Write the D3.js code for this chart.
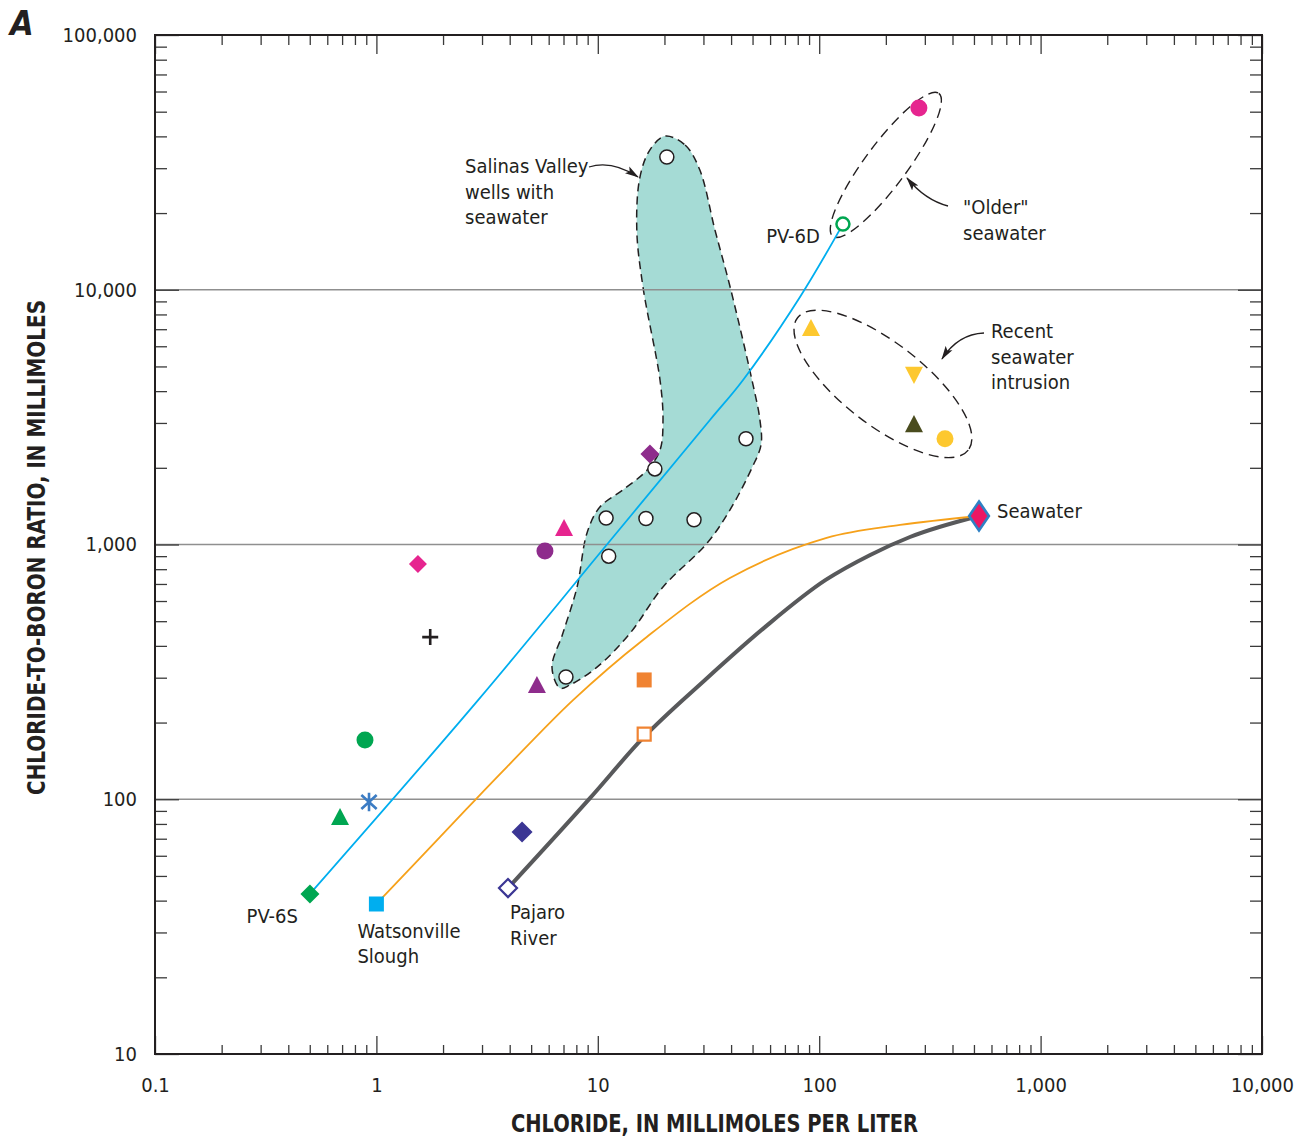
<!DOCTYPE html>
<html>
<head>
<meta charset="utf-8">
<script src="https://cdn.jsdelivr.net/npm/d3@7"></script>
<style>
  body { margin: 0; background: #fff; }
  text { font-family: "Liberation Sans Narrow", "DejaVu Sans Condensed", "Roboto", sans-serif; fill: #231f20; }
</style>
</head>
<body>
<svg id="chart" width="1304" height="1137"></svg>
<script>
// ---- data (chloride mmol/L, chloride-to-boron molar ratio) ----
const xMajorTicks = [0.1, 1, 10, 100, 1000, 10000]
const xTickLabels = ['0.1', '1', '10', '100', '1,000', '10,000']
const yMajorTicks = [10, 100, 1000, 10000, 100000]
const yTickLabels = ['10', '100', '1,000', '10,000', '100,000']
const gridRatios = [100, 1000, 10000]

// Salinas Valley wells with seawater (open circles)
const salinasWells = [
  [20.5, 33200], [46.7, 2600], [18.1, 1980], [10.9, 1270],
  [16.5, 1265], [27.2, 1250], [11.2, 900], [7.18, 302]
]
// outline of the shaded Salinas Valley field
const salinasEnvelope = [
  [20.1, 40100], [24.8, 37000], [28.9, 29500], [33.8, 17200], [39.6, 10250],
  [49.7, 4420], [54.0, 3080], [54.6, 2460], [49.7, 2000], [39.6, 1370],
  [31.1, 1010], [19.7, 681], [14.0, 449], [9.92, 330], [7.49, 281],
  [6.75, 273], [6.21, 330], [6.96, 449], [8.06, 681], [8.94, 1110],
  [10.2, 1400], [13.0, 1640], [16.7, 1960], [19.1, 2350], [19.7, 3080],
  [19.1, 4420], [16.0, 10250], [15.0, 17200], [15.5, 27700], [17.2, 35400]
]

// other samples: [chloride, ratio, symbol key]
const samples = [
  [282, 51700, 'pinkCircle'],
  [91.8, 7080, 'yellowTriangle'],
  [268, 4630, 'yellowTriangleDown'],
  [268, 2970, 'oliveTriangle'],
  [370, 2600, 'yellowCircle'],
  [17.2, 2265, 'purpleDiamond'],
  [7.04, 1161, 'pinkTriangle'],
  [5.77, 943, 'purpleCircle'],
  [1.54, 838, 'pinkDiamond'],
  [1.75, 433, 'blackPlus'],
  [5.31, 281, 'purpleTriangle'],
  [16.2, 294, 'orangeSquare'],
  [16.2, 180, 'orangeOpenSquare'],
  [0.888, 171, 'greenCircle'],
  [0.926, 97.5, 'blueAsterisk'],
  [0.685, 85.2, 'greenTriangle'],
  [4.55, 74.3, 'navyDiamond']
]

// end members
const endMembers = [
  ['PV-6S', 0.501, 42.5, 'greenDiamond'],
  ['PV-6D', 128, 18100, 'greenOpenCircle'],
  ['Watsonville', 1.0, 38.8, 'cyanSquare'],
  ['Pajaro', 3.93, 44.8, 'navyOpenDiamond'],
  ['Seawater', 527, 1294, 'seawaterDiamond']
]

// mixing curves
const mixPV6 = [[0.501, 42.5], [2.88, 245], [11.0, 1000], [32.1, 3080], [45.3, 4425], [81.9, 9370], [128, 18100]]
const mixWatsonville = [[1.0, 38.8], [1.94, 71.1], [2.79, 99.3], [3.89, 134], [7.73, 245], [16.0, 422], [39.5, 739], [108, 1061], [232, 1193], [527, 1294]]
const mixPajaro = [[3.93, 44.8], [9.22, 101], [16.0, 174], [30.5, 294], [56.9, 474], [107, 726], [170, 910], [257, 1070], [527, 1294]]

// centres of the dashed seawater envelopes
const olderCenter = [200, 30900]
const recentCenter = [194, 4270]

// ---- styles ----
const markStyle = {
  pinkCircle: { shape: 'circle', size: 17, fill: '#e6258f' },
  yellowTriangle: { shape: 'triangle', size: 18, fill: '#fdc82f' },
  yellowTriangleDown: { shape: 'triangleDown', size: 18, fill: '#fdc82f' },
  oliveTriangle: { shape: 'triangle', size: 18, fill: '#4a4c1e' },
  yellowCircle: { shape: 'circle', size: 17, fill: '#fdc82f' },
  purpleDiamond: { shape: 'diamond', size: 19, fill: '#8e2c8c' },
  pinkTriangle: { shape: 'triangle', size: 18, fill: '#e6258f' },
  purpleCircle: { shape: 'circle', size: 17, fill: '#8e2c8c' },
  pinkDiamond: { shape: 'diamond', size: 18, fill: '#e6258f' },
  blackPlus: { shape: 'plus', size: 16, stroke: '#231f20', width: 2.6 },
  purpleTriangle: { shape: 'triangle', size: 18, fill: '#8e2c8c' },
  orangeSquare: { shape: 'square', size: 15, fill: '#f08332' },
  orangeOpenSquare: { shape: 'square', size: 13, fill: '#fff', stroke: '#f08332', width: 2.2 },
  greenCircle: { shape: 'circle', size: 17, fill: '#00a651' },
  blueAsterisk: { shape: 'asterisk', size: 18, stroke: '#3b7cc4', width: 2.6 },
  greenTriangle: { shape: 'triangle', size: 18, fill: '#00a651' },
  navyDiamond: { shape: 'diamond', size: 21, fill: '#3b3694' },
  greenDiamond: { shape: 'diamond', size: 19, fill: '#00a651' },
  greenOpenCircle: { shape: 'circle', size: 13, fill: '#fff', stroke: '#00a651', width: 2.5 },
  cyanSquare: { shape: 'square', size: 15, fill: '#00aeef' },
  navyOpenDiamond: { shape: 'diamond', size: 18, fill: '#fff', stroke: '#3b3694', width: 2.2 },
  seawaterDiamond: { shape: 'rhombus', size: 29, fill: '#ec1763', stroke: '#2e80c4', width: 2.6 }
}

function symbolPath (shape, s) {
  const p = d3.path()
  const h = s / 2
  if (shape === 'circle') {
    p.arc(0, 0, h, 0, 2 * Math.PI)
  } else if (shape === 'square') {
    p.rect(-h, -h, s, s)
  } else if (shape === 'diamond') {
    p.moveTo(0, -h); p.lineTo(h, 0); p.lineTo(0, h); p.lineTo(-h, 0); p.closePath()
  } else if (shape === 'rhombus') {
    const w = h * 0.68
    p.moveTo(0, -h); p.lineTo(w, 0); p.lineTo(0, h); p.lineTo(-w, 0); p.closePath()
  } else if (shape === 'triangle') {
    p.moveTo(0, -h); p.lineTo(h, h * 0.9); p.lineTo(-h, h * 0.9); p.closePath()
  } else if (shape === 'triangleDown') {
    p.moveTo(0, h); p.lineTo(h, -h * 0.9); p.lineTo(-h, -h * 0.9); p.closePath()
  } else if (shape === 'plus') {
    p.moveTo(-h, 0); p.lineTo(h, 0); p.moveTo(0, -h); p.lineTo(0, h)
  } else if (shape === 'asterisk') {
    const dx = h * 0.85, dy = h * 0.78
    p.moveTo(0, -h * 1.02); p.lineTo(0, h * 1.02)
    p.moveTo(-dx, -dy); p.lineTo(dx, dy)
    p.moveTo(dx, -dy); p.lineTo(-dx, dy)
  }
  return p.toString()
}

// ---- chart ----
const mLeft = 155, mRight = 1262, mTop = 35, mBottom = 1054
const x = d3.scaleLog().domain([0.1, 10000]).range([mLeft, mRight])
const y = d3.scaleLog().domain([10, 100000]).range([mBottom, mTop])
const isMajor = v => Math.abs(Math.log10(v) - Math.round(Math.log10(v))) < 1e-9
const xMinorTicks = x.ticks().filter(v => !isMajor(v))
const yMinorTicks = y.ticks().filter(v => !isMajor(v))

const svg = d3.select('#chart')

const defs = svg.append('defs')
defs.append('marker')
    .attr('id', 'arrow')
    .attr('markerUnits', 'userSpaceOnUse')
    .attr('markerWidth', 14)
    .attr('markerHeight', 10)
    .attr('viewBox', '0 -5 14 10')
    .attr('refX', 13)
    .attr('refY', 0)
    .attr('orient', 'auto')
  .append('path')
    .attr('d', 'M0,-4L14,0L0,4L3,0Z')
    .attr('fill', '#231f20')

// Salinas Valley field
const envelopeLine = d3.line()
    .x(d => x(d[0]))
    .y(d => y(d[1]))
    .curve(d3.curveCatmullRomClosed.alpha(0.5))

svg.append('path')
    .attr('d', envelopeLine(salinasEnvelope))
    .attr('fill', '#a5dbd5')
    .attr('stroke', '#231f20')
    .attr('stroke-width', 1.5)
    .attr('stroke-dasharray', '8,5')

// gridlines
svg.append('g')
  .selectAll('line')
  .data(gridRatios)
  .join('line')
    .attr('x1', mLeft)
    .attr('x2', mRight)
    .attr('y1', d => y(d))
    .attr('y2', d => y(d))
    .attr('stroke', '#8f8f8f')
    .attr('stroke-width', 1.3)

// dashed seawater envelopes
const envelopes = [
  { c: olderCenter, rx: 89, ry: 21, angle: -53.5 },
  { c: recentCenter, rx: 108, ry: 41, angle: 37.8 }
]
svg.append('g')
  .selectAll('ellipse')
  .data(envelopes)
  .join('ellipse')
    .attr('cx', d => x(d.c[0]))
    .attr('cy', d => y(d.c[1]))
    .attr('rx', d => d.rx)
    .attr('ry', d => d.ry)
    .attr('transform', d => `rotate(${d.angle},${x(d.c[0])},${y(d.c[1])})`)
    .attr('fill', 'none')
    .attr('stroke', '#231f20')
    .attr('stroke-width', 1.4)
    .attr('stroke-dasharray', '10,6')

// mixing lines
const smoothLine = d3.line()
    .x(d => x(d[0]))
    .y(d => y(d[1]))
    .curve(d3.curveCatmullRom.alpha(0.5))
const monoLine = d3.line()
    .x(d => x(d[0]))
    .y(d => y(d[1]))
    .curve(d3.curveMonotoneX)

svg.append('path')
    .attr('d', monoLine(mixPajaro))
    .attr('fill', 'none')
    .attr('stroke', '#58595b')
    .attr('stroke-width', 4)
    .attr('stroke-linejoin', 'round')
svg.append('path')
    .attr('d', smoothLine(mixWatsonville))
    .attr('fill', 'none')
    .attr('stroke', '#f6a11a')
    .attr('stroke-width', 1.8)
svg.append('path')
    .attr('d', smoothLine(mixPV6))
    .attr('fill', 'none')
    .attr('stroke', '#00aeef')
    .attr('stroke-width', 1.8)

// symbols
function drawMarks (sel) {
  sel.attr('d', d => symbolPath(markStyle[d.key].shape, markStyle[d.key].size))
     .attr('transform', d => `translate(${x(d.cl)},${y(d.ratio)})`)
     .attr('fill', d => markStyle[d.key].fill || 'none')
     .attr('stroke', d => markStyle[d.key].stroke || 'none')
     .attr('stroke-width', d => markStyle[d.key].width || 0)
}

svg.append('g')
  .selectAll('circle')
  .data(salinasWells)
  .join('circle')
    .attr('cx', d => x(d[0]))
    .attr('cy', d => y(d[1]))
    .attr('r', 7)
    .attr('fill', '#fff')
    .attr('stroke', '#231f20')
    .attr('stroke-width', 1.5)

svg.append('g')
  .selectAll('path')
  .data(samples.map(d => ({ cl: d[0], ratio: d[1], key: d[2] })))
  .join('path')
    .call(drawMarks)

svg.append('g')
  .selectAll('path')
  .data(endMembers.map(d => ({ name: d[0], cl: d[1], ratio: d[2], key: d[3] })))
  .join('path')
    .call(drawMarks)

// labels
const labelFont = 20
function label (lines, px, py, anchor = 'start', lead = 25.5) {
  const t = svg.append('text')
      .attr('font-size', labelFont)
      .attr('text-anchor', anchor)
      .attr('x', px)
      .attr('y', py)
  lines.forEach((s, i) => {
    t.append('tspan').attr('x', px).attr('y', py + i * lead).text(s)
  })
}
const em = Object.fromEntries(endMembers.map(d => [d[0], [x(d[1]), y(d[2])]]))

label(['PV-6S'], em['PV-6S'][0] - 12, em['PV-6S'][1] + 29, 'end')
label(['PV-6D'], em['PV-6D'][0] - 23, em['PV-6D'][1] + 19, 'end')
label(['Watsonville', 'Slough'], em['Watsonville'][0] - 19, em['Watsonville'][1] + 34)
label(['Pajaro', 'River'], em['Pajaro'][0] + 2, em['Pajaro'][1] + 31)
label(['Seawater'], em['Seawater'][0] + 18, em['Seawater'][1] + 2)
label(['Salinas Valley', 'wells with', 'seawater'], 465, 173)
label(['"Older"', 'seawater'], 963, 214)
label(['Recent', 'seawater', 'intrusion'], 991, 338)

// leader arrows
const leaders = [
  'M589,167 Q612,160 638,177',
  'M948,206 Q925,200 907,178',
  'M984,333 Q958,334 942,359'
]
svg.append('g')
  .selectAll('path')
  .data(leaders)
  .join('path')
    .attr('d', d => d)
    .attr('fill', 'none')
    .attr('stroke', '#231f20')
    .attr('stroke-width', 1.3)
    .attr('marker-end', 'url(#arrow)')

// axes: inward ticks on all four sides
function styleAxis (g) {
  g.select('.domain').remove()
  g.selectAll('.tick line').attr('stroke', '#3a3a3a').attr('stroke-width', 1.3)
  g.selectAll('.tick text').attr('font-size', 20).attr('fill', '#231f20')
    .attr('font-family', '"Liberation Sans Narrow", "DejaVu Sans Condensed", Roboto, sans-serif')
}

svg.append('g')
    .attr('transform', `translate(0,${mBottom})`)
    .call(d3.axisBottom(x).tickValues(xMinorTicks).tickSize(-9).tickFormat(''))
    .call(styleAxis)
svg.append('g')
    .attr('transform', `translate(0,${mBottom})`)
    .call(d3.axisBottom(x).tickValues(xMajorTicks).tickSize(-18).tickPadding(24)
      .tickFormat((d, i) => xTickLabels[i]))
    .call(styleAxis)
svg.append('g')
    .attr('transform', `translate(0,${mTop})`)
    .call(d3.axisTop(x).tickValues(xMinorTicks).tickSize(-10).tickFormat(''))
    .call(styleAxis)
svg.append('g')
    .attr('transform', `translate(0,${mTop})`)
    .call(d3.axisTop(x).tickValues(xMajorTicks).tickSize(-19).tickFormat(''))
    .call(styleAxis)
svg.append('g')
    .attr('transform', `translate(${mLeft},0)`)
    .call(d3.axisLeft(y).tickValues(yMinorTicks).tickSize(-12).tickFormat(''))
    .call(styleAxis)
svg.append('g')
    .attr('transform', `translate(${mLeft},0)`)
    .call(d3.axisLeft(y).tickValues(yMajorTicks).tickSize(-24).tickPadding(18)
      .tickFormat((d, i) => yTickLabels[i]))
    .call(styleAxis)
svg.append('g')
    .attr('transform', `translate(${mRight},0)`)
    .call(d3.axisRight(y).tickValues(yMinorTicks).tickSize(-12).tickFormat(''))
    .call(styleAxis)
svg.append('g')
    .attr('transform', `translate(${mRight},0)`)
    .call(d3.axisRight(y).tickValues(yMajorTicks).tickSize(-24).tickFormat(''))
    .call(styleAxis)

// frame
svg.append('rect')
    .attr('x', mLeft)
    .attr('y', mTop)
    .attr('width', mRight - mLeft)
    .attr('height', mBottom - mTop)
    .attr('fill', 'none')
    .attr('stroke', '#231f20')
    .attr('stroke-width', 2)

// titles
svg.append('text')
    .attr('x', (mLeft + mRight) / 2 + 6)
    .attr('y', 1132)
    .attr('text-anchor', 'middle')
    .attr('font-size', 25)
    .attr('font-weight', 'bold')
    .attr('textLength', 407)
    .attr('lengthAdjust', 'spacingAndGlyphs')
    .text('CHLORIDE, IN MILLIMOLES PER LITER')
svg.append('text')
    .attr('transform', `translate(45,${(300 + 795) / 2}) rotate(-90)`)
    .attr('text-anchor', 'middle')
    .attr('font-size', 25)
    .attr('font-weight', 'bold')
    .attr('textLength', 495)
    .attr('lengthAdjust', 'spacingAndGlyphs')
    .text('CHLORIDE-TO-BORON RATIO, IN MILLIMOLES')
svg.append('text')
    .attr('x', 10)
    .attr('y', 35)
    .attr('font-size', 34)
    .attr('font-weight', 'bold')
    .attr('font-style', 'italic')
    .text('A')
</script>
</body>
</html>
